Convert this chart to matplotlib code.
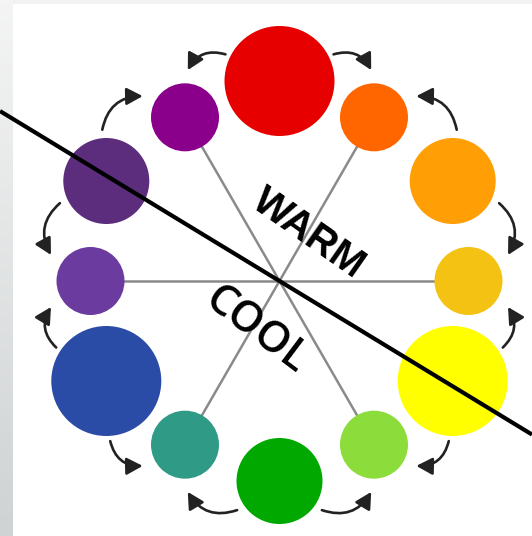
import numpy as np
import matplotlib.pyplot as plt
from matplotlib.patches import Circle, FancyArrowPatch

# colour wheel, clockwise from the top
hues = ['red', 'red-orange', 'orange', 'yellow-orange', 'yellow', 'yellow-green',
        'green', 'blue-green', 'blue', 'blue-violet', 'violet', 'red-violet']
angles = [0, 30, 60, 90, 120, 150, 180, 210, 240, 270, 300, 330]
sizes = [55, 34, 43, 34, 55, 34, 43, 34, 55, 34, 43, 34]
ring = [200, 189, 200, 189, 200, 189, 200, 189, 200, 189, 200, 189]
colors = ['#e60000', '#ff6600', '#ff9f05', '#f3c212', '#ffff00', '#8cdd3c',
          '#00a800', '#2f9a85', '#2a4ba6', '#6b3b9f', '#5b2d7c', '#8a008a']
spokes = [(1, 7), (3, 9), (5, 11)]
labels = ['WARM', 'COOL']

W, H = 532, 536
cx, cy = 279.5, 281
tilt = 31.3  # divider angle, degrees

fig = plt.figure(figsize=(W / 100, H / 100), dpi=100)
ax = fig.add_axes([0, 0, 1, 1])

# grey frame on the left and top
grad = np.linspace(0, 1, 100).reshape(-1, 1)
ax.imshow(grad, extent=(0, 13, H, 0), aspect='auto', zorder=0,
          cmap=plt.matplotlib.colors.LinearSegmentedColormap.from_list('g', ['#f4f4f4', '#cfd3d4']))
ax.add_patch(plt.Rectangle((13, 0), W - 13, 4, color='#f2f2f2', lw=0, zorder=0))
ax.set_xlim(0, W)
ax.set_ylim(H, 0)
ax.axis('off')

def pos(a, d):
    t = np.radians(a)
    return cx + d * np.sin(t), cy - d * np.cos(t)

xs = [pos(a, d)[0] for a, d in zip(angles, ring)]
ys = [pos(a, d)[1] for a, d in zip(angles, ring)]

for i, j in spokes:
    ax.plot([xs[i], xs[j]], [ys[i], ys[j]], color='#8a8a8a', lw=1.8, zorder=2)

for x, y, r, c in zip(xs, ys, sizes, colors):
    ax.add_patch(Circle((x, y), r, color=c, lw=0, zorder=3))

# curved arrows from the larger circles to the small ones
for i in range(1, 12, 2):
    for src, sgn in (((i - 1) % 12, 1), ((i + 1) % 12, -1)):
        a0 = angles[src] + sgn * np.degrees(sizes[src] / 235)
        a1 = angles[i] - sgn * 6.5
        if sgn == 1 and angles[src] > angles[i]:
            a0 -= 360
        arr = FancyArrowPatch(pos(a0, 233), pos(a1, 230),
                              connectionstyle=f"arc3,rad={-0.4 * sgn}",
                              arrowstyle="-|>,head_length=0.75,head_width=0.4",
                              mutation_scale=13, color='#222222', lw=1.9,
                              shrinkA=0, shrinkB=0, zorder=3)
        ax.add_patch(arr)

# divider line
k = np.tan(np.radians(tilt))
ax.plot([0, W], [cy - cx * k, cy + (W - cx) * k], color='black', lw=3, zorder=5,
        solid_capstyle='butt')

ax.text(309, 234, labels[0], rotation=-35, ha='center', va='center', fontsize=29,
        fontweight='bold', family='Liberation Sans', zorder=6)
ax.text(256, 330, labels[1], rotation=-37, ha='center', va='center', fontsize=31,
        fontweight='semibold', family='Open Sans', zorder=6)

fig.savefig('out.png', dpi=100)
